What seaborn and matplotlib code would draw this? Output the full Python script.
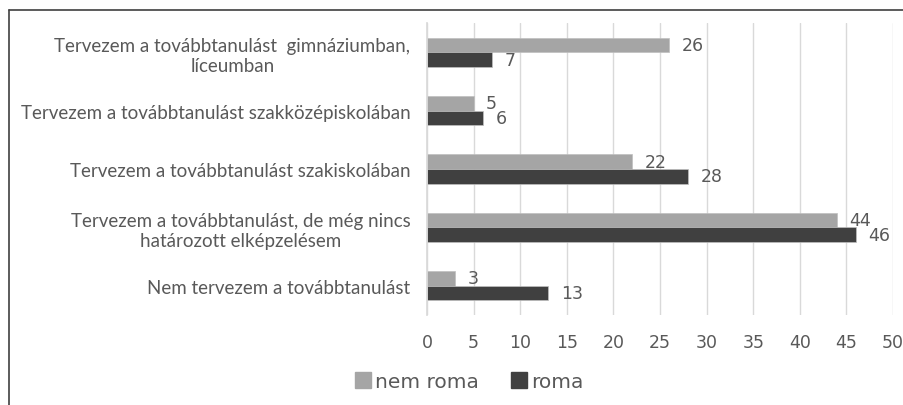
import matplotlib
matplotlib.use("Agg")
import matplotlib.pyplot as plt
import seaborn as sns
import pandas as pd
from matplotlib.lines import Line2D

categories = [
    "Tervezem a továbbtanulást  gimnáziumban,\nlíceumban",
    "Tervezem a továbbtanulást szakközépiskolában",
    "Tervezem a továbbtanulást szakiskolában",
    "Tervezem a továbbtanulást, de még nincs\nhatározott elképzelésem",
    "Nem tervezem a továbbtanulást",
]
series_names = ["nem roma", "roma"]
nem_roma = [26, 5, 22, 44, 3]
roma = [7, 6, 28, 46, 13]
x_ticks = [0, 5, 10, 15, 20, 25, 30, 35, 40, 45, 50]

df = pd.DataFrame({
    "cat": categories * 2,
    "group": [series_names[0]] * len(categories) + [series_names[1]] * len(categories),
    "value": nem_roma + roma,
})

sns.set_theme(style="white")
plt.rcParams["font.family"] = ["Lato", "DejaVu Sans"]
txt = "#595959"
num_font = ["DejaVu Sans"]

fig = plt.figure(figsize=(9.04, 4.06), dpi=100)
ax = fig.add_axes([427/904, 1 - 316/406, (893-427)/904, (316-24)/406])

colors = {"nem roma": "#a5a5a5", "roma": "#404040"}
sns.barplot(data=df, y="cat", x="value", hue="group", order=categories,
            hue_order=series_names, palette=colors, orient="h", ax=ax,
            width=0.5, legend=False, edgecolor="#bfbfbf", linewidth=0.5)

for cont in ax.containers:
    ax.bar_label(cont, fmt="%d", padding=9, fontsize=12.5, color=txt, family=num_font)

ax.set_xlim(0, 50)
ax.set_xticks(x_ticks)
ax.set_xticklabels([str(t) for t in x_ticks], family=num_font)
ax.set_xlabel("")
ax.set_ylabel("")
ax.grid(axis="x", color="#d9d9d9", linewidth=1)
ax.set_axisbelow(True)
for s in ["top", "right", "bottom"]:
    ax.spines[s].set_visible(False)
ax.spines["left"].set_color("#d9d9d9")
ax.tick_params(axis="x", length=0, labelsize=12.5, colors=txt, pad=13)
ax.tick_params(axis="y", length=0, labelsize=13.5, colors=txt, pad=12)
for lab in ax.get_yticklabels():
    lab.set_horizontalalignment("right")
    lab.set_multialignment("center")
    lab.set_linespacing(1.25)

handles = [Line2D([0], [0], marker="s", linestyle="", markersize=11,
                  markerfacecolor=colors[n], markeredgecolor=colors[n]) for n in series_names]
fig.legend(handles, series_names, loc="center", bbox_to_anchor=(468/904, 1 - 383/406),
           ncol=2, frameon=False, prop={"family": "DejaVu Sans", "size": 14.5},
           labelcolor=txt, handletextpad=0.1, columnspacing=1.5, handlelength=1.0)

# chart border
fig.add_artist(Line2D([9/904, 1], [1 - 11/406, 1 - 11/406], transform=fig.transFigure, color="#404040", linewidth=1.2))
fig.add_artist(Line2D([9/904, 9/904], [0, 1 - 11/406], transform=fig.transFigure, color="#404040", linewidth=1.2))

fig.savefig("out.png", dpi=100)
